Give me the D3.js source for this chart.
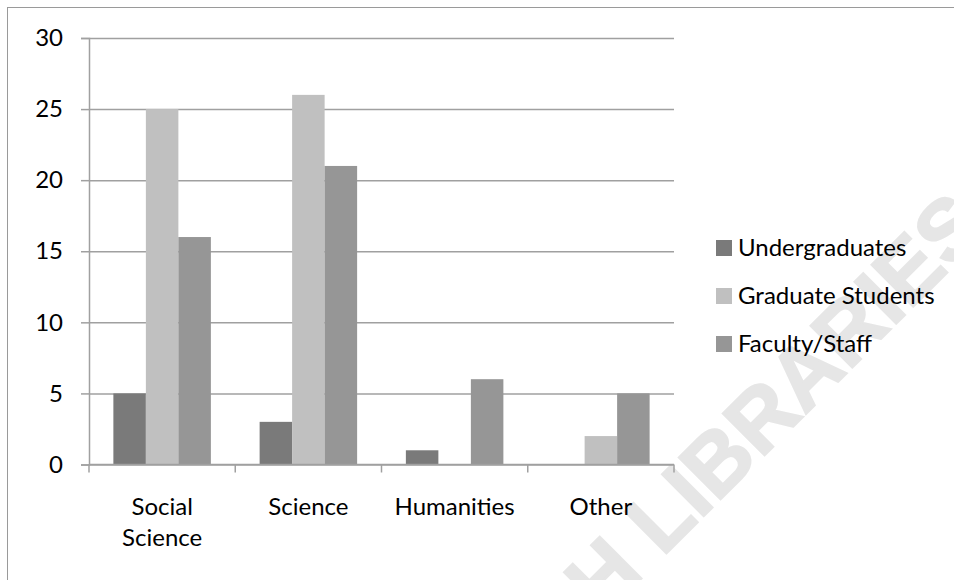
<!DOCTYPE html>
<html>
<head>
<meta charset="utf-8">
<script src="https://cdn.jsdelivr.net/npm/d3@7/dist/d3.min.js"></script>
<style>
  html, body { margin: 0; padding: 0; background: #fff; }
  svg { display: block; }
  text { font-family: Lato, "Noto Sans", sans-serif; fill: #000; }
</style>
</head>
<body>
<svg id="chart" width="954" height="580"></svg>
<script>
// Respondents by discipline and status
const categories = ["Social Science", "Science", "Humanities", "Other"];
const seriesNames = ["Undergraduates", "Graduate Students", "Faculty/Staff"];
const undergraduates = [5, 3, 1, 0];
const graduateStudents = [25, 26, 0, 2];
const facultyStaff = [16, 21, 6, 5];
const yTicks = [0, 5, 10, 15, 20, 25, 30];
const seriesColors = ["#7a7a7a", "#c0c0c0", "#969696"];

const seriesValues = [undergraduates, graduateStudents, facultyStaff];
const rows = categories.map((c, i) => ({
  category: c,
  values: seriesNames.map((s, j) => ({ series: s, value: seriesValues[j][i] }))
}));

const svg = d3.select("#chart");

// outer chart frame
svg.append("rect")
  .attr("x", 7.5).attr("y", 7.5)
  .attr("width", 1000).attr("height", 1000)
  .attr("fill", "none").attr("stroke", "#9a9a9a").attr("stroke-width", 1);

// faint background watermark
svg.append("text")
  .attr("transform", "translate(796,424) rotate(-45)")
  .attr("text-anchor", "middle")
  .style("font-family", "'Liberation Sans', Arial, sans-serif")
  .style("font-weight", "bold")
  .style("font-size", "86px")
  .style("fill", "#e6e6e6")
  .style("stroke", "#e6e6e6")
  .style("stroke-width", 2)
  .text("H LIBRARIES");

const plot = { left: 89, right: 674, top: 38, bottom: 464.5 };

const x0 = d3.scaleBand().domain(categories).range([plot.left, plot.right]).padding(0);
const x1 = d3.scaleBand().domain(seriesNames).range([0, x0.bandwidth()])
  .paddingInner(0).paddingOuter(0.75);
const y = d3.scaleLinear().domain([0, 30]).range([plot.bottom, plot.top]);
const color = d3.scaleOrdinal().domain(seriesNames).range(seriesColors);

const gridColor = "#a0a0a0";

// horizontal gridlines with left tick stubs
const yAxis = d3.axisLeft(y).tickValues(yTicks).tickSize(8).tickPadding(18).tickFormat(d3.format("d"));
const gy = svg.append("g").attr("transform", `translate(${plot.left},0)`).call(yAxis);
gy.select(".domain").attr("stroke", gridColor).attr("stroke-width", 1.5);
gy.selectAll(".tick line").attr("stroke", gridColor).attr("stroke-width", 1.5);
gy.selectAll(".tick text").style("font-size", "24px").style("font-family", "Lato, sans-serif").attr("fill", "#000");
gy.selectAll(".tick").append("line")
  .attr("x1", 0).attr("x2", plot.right - plot.left)
  .attr("stroke", gridColor).attr("stroke-width", 1.5);

// bars
const groups = svg.append("g").selectAll("g").data(rows).join("g")
  .attr("transform", d => `translate(${x0(d.category)},0)`);
groups.selectAll("rect").data(d => d.values.filter(v => v.value > 0)).join("rect")
  .attr("x", d => x1(d.series))
  .attr("width", x1.bandwidth())
  .attr("y", d => y(d.value))
  .attr("height", d => y(0) - y(d.value))
  .attr("fill", d => color(d.series));

// category axis with boundary ticks
const boundaries = categories.map(c => x0(c)).concat([plot.right]);
const gx = svg.append("g");
gx.append("line")
  .attr("x1", plot.left).attr("x2", plot.right)
  .attr("y1", plot.bottom).attr("y2", plot.bottom)
  .attr("stroke", gridColor).attr("stroke-width", 1.5);
gx.selectAll("line.tk").data(boundaries).join("line").attr("class", "tk")
  .attr("x1", d => d).attr("x2", d => d)
  .attr("y1", plot.bottom).attr("y2", plot.bottom + 8)
  .attr("stroke", gridColor).attr("stroke-width", 1.5);

const labelLines = { "Social Science": ["Social", "Science"] };
gx.selectAll("text.cat").data(categories).join("text").attr("class", "cat")
  .attr("text-anchor", "middle")
  .style("font-size", "24px")
  .each(function (c) {
    const lines = labelLines[c] || [c];
    const t = d3.select(this);
    lines.forEach((ln, i) => {
      t.append("tspan")
        .attr("x", x0(c) + x0.bandwidth() / 2)
        .attr("y", 515 + i * 31)
        .text(ln);
    });
  });

// legend
const legend = svg.append("g").selectAll("g").data(seriesNames).join("g")
  .attr("transform", (d, i) => `translate(716,${248 + i * 48})`);
legend.append("rect")
  .attr("x", 0).attr("y", -8).attr("width", 16).attr("height", 16)
  .attr("fill", d => color(d));
legend.append("text")
  .attr("x", 22).attr("y", 8)
  .style("font-size", "24px")
  .text(d => d);
</script>
</body>
</html>
